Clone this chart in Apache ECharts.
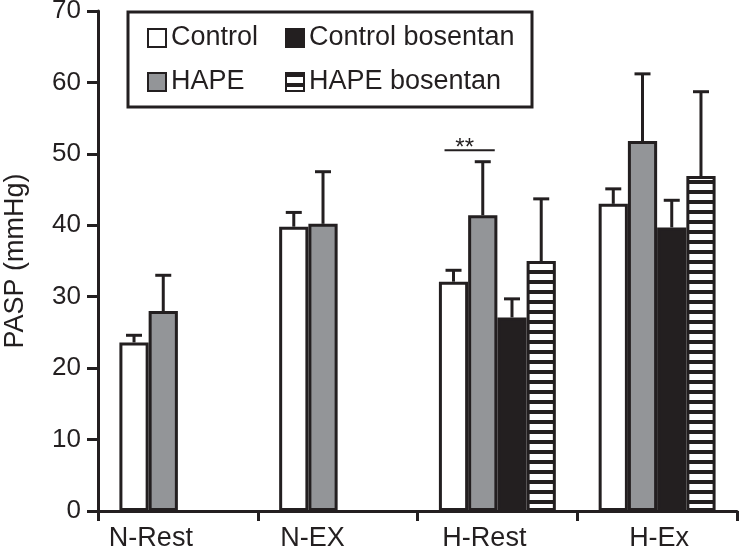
<!DOCTYPE html>
<html><head><meta charset="utf-8">
<script src="https://cdn.jsdelivr.net/npm/echarts@6/dist/echarts.min.js"></script>
<style>html,body{margin:0;padding:0;background:#fff}#c{width:739px;height:552px}</style>
</head><body><div id="c"></div>
<script>
// ---- data ----
const categories = ['N-Rest', 'N-EX', 'H-Rest', 'H-Ex'];
const seriesNames = ['Control', 'HAPE', 'Control bosentan', 'HAPE bosentan'];
const controlMean = [23.6, 39.8, 32.1, 43.0];
const controlSD = [1.0, 2.0, 1.6, 2.1];
const hapeMean = [28.0, 40.2, 41.4, 51.8];
const hapeSD = [5.0, 7.3, 7.5, 9.4];
const controlBosMean = [null, null, 27.1, 39.7];
const controlBosSD = [null, null, 2.6, 3.8];
const hapeBosMean = [null, null, 35.0, 46.9];
const hapeBosSD = [null, null, 8.7, 11.8];
const yTicks = [0, 10, 20, 30, 40, 50, 60, 70];
const sigCategory = 2;      // H-Rest
const sigLevel = 50.5;
const sigLabel = '**';

// ---- styling ----
const INK = '#231f20';
const GRAY = '#939598';
const BAR_FRAC = 0.183;
const FONT = 'Liberation Sans, Arial, sans-serif';
const labelShift = [-27, -25, -13, 2]; // horizontal nudge of category labels (px)

function stripePattern() {
  const c = document.createElement('canvas');
  c.width = 10; c.height = 10;
  const g = c.getContext('2d');
  g.fillStyle = '#ffffff'; g.fillRect(0, 0, 10, 10);
  g.fillStyle = INK; g.fillRect(0, 0, 10, 4);
  return c;
}
const fills = ['#ffffff', GRAY, INK, { image: stripePattern(), repeat: 'repeat' }];
const means = [controlMean, hapeMean, controlBosMean, hapeBosMean];
const sds = [controlSD, hapeSD, controlBosSD, hapeBosSD];

const barSeries = seriesNames.map((name, i) => ({
  name: name,
  type: 'bar',
  barWidth: (BAR_FRAC * 100) + '%',
  barGap: '0%',
  data: means[i].map(v => v == null ? '-' : v),
  itemStyle: { color: fills[i], borderColor: INK, borderWidth: 3 },
  emphasis: { disabled: true },
  z: 2
}));

const errData = [];
means.forEach((arr, s) => arr.forEach((m, c) => {
  if (m != null) errData.push([c, m, sds[s][c], s]);
}));

function slotX(api, cat, slot) {
  const band = api.size([1, 0])[0];
  const w = band * BAR_FRAC;
  return api.coord([cat, 0])[0] + (slot - 1.5) * w;
}

const errSeries = {
  type: 'custom',
  silent: true,
  z: 5,
  data: errData,
  renderItem: function (params, api) {
    const cat = api.value(0), m = api.value(1), sd = api.value(2), slot = api.value(3);
    const cx = slotX(api, cat, slot);
    const yTop = api.coord([cat, m + sd])[1];
    const yM = api.coord([cat, m])[1];
    const st = { stroke: INK, lineWidth: 3 };
    return { type: 'group', children: [
      { type: 'line', shape: { x1: cx, y1: yM, x2: cx, y2: yTop }, style: st },
      { type: 'line', shape: { x1: cx - 8, y1: yTop, x2: cx + 8, y2: yTop }, style: st }
    ] };
  }
};

const sigSeries = {
  type: 'custom',
  silent: true,
  z: 5,
  data: [[sigCategory, sigLevel]],
  renderItem: function (params, api) {
    const cat = api.value(0), v = api.value(1);
    const x1 = slotX(api, cat, 0) - 9;
    const x2 = slotX(api, cat, 1) + 12;
    const y = api.coord([cat, v])[1];
    return { type: 'group', children: [
      { type: 'line', shape: { x1: x1, y1: y, x2: x2, y2: y }, style: { stroke: INK, lineWidth: 2 } },
      { type: 'text', style: { text: sigLabel, x: (x1 + x2) / 2 - 5, y: y - 14, align: 'center', verticalAlign: 'top',
        font: '24px ' + FONT, fill: INK } }
    ] };
  }
};

function legendAt(name, left, top) {
  return {
    data: [name], left: left, top: top, padding: 0,
    orient: 'horizontal', itemWidth: 18, itemHeight: 18, icon: 'rect',
    selectedMode: false, z: 10,
    itemStyle: { borderWidth: 2, borderColor: INK },
    textStyle: { fontSize: 27, fontFamily: FONT, color: INK, lineHeight: 30 }
  };
}

const rich = {};
labelShift.forEach((d, i) => {
  rich['c' + i] = {
    fontSize: 27, fontFamily: FONT, color: INK,
    padding: d < 0 ? [0, -2 * d, 0, 0] : [0, 0, 0, 2 * d]
  };
});

const chart = echarts.init(document.getElementById('c'), null, { renderer: 'canvas' });
chart.setOption({
  animation: false,
  backgroundColor: '#ffffff',
  grid: { left: 98, right: 2, top: 11, bottom: 41, containLabel: false, outerBoundsMode: 'none' },
  xAxis: {
    type: 'category', data: categories, boundaryGap: true,
    axisLine: { lineStyle: { color: INK, width: 3 } },
    axisTick: { show: true, interval: 0, length: 10, lineStyle: { color: INK, width: 3 } },
    axisLabel: {
      interval: 0, hideOverlap: false,
      color: INK, fontSize: 27, fontFamily: FONT, margin: 14,
      formatter: function (v, i) { return '{c' + i + '|' + v + '}'; },
      rich: rich
    },
    splitLine: { show: false }
  },
  yAxis: {
    type: 'value', min: yTicks[0], max: yTicks[yTicks.length - 1], interval: 10,
    name: 'PASP (mmHg)', nameLocation: 'middle', nameGap: 69, nameRotate: 90,
    nameTextStyle: { color: INK, fontSize: 27, fontFamily: FONT },
    axisLine: { show: true, lineStyle: { color: INK, width: 3 } },
    axisTick: { show: true, length: 11, lineStyle: { color: INK, width: 3 } },
    axisLabel: { color: INK, fontSize: 26, fontFamily: FONT, margin: 17 },
    splitLine: { show: false }
  },
  legend: [
    legendAt('Control', 147, 23),
    legendAt('HAPE', 147, 67),
    legendAt('Control bosentan', 285, 23),
    legendAt('HAPE bosentan', 285, 67)
  ],
  graphic: [{
    type: 'rect', z: 1, silent: true,
    shape: { x: 128, y: 12, width: 404, height: 95 },
    style: { fill: '#ffffff', stroke: INK, lineWidth: 3 }
  }],
  series: barSeries.concat([errSeries, sigSeries])
});
</script>
</body></html>
